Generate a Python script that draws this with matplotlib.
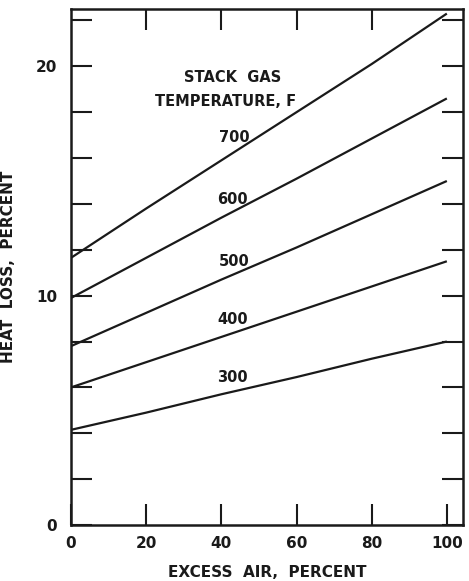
import numpy as np
import matplotlib
matplotlib.use('Agg')
import matplotlib.pyplot as plt

# excess air, percent
excess_air = [0, 20, 40, 60, 80, 100]
# heat loss, percent, per stack gas temperature (F)
temps = ['300', '400', '500', '600', '700']
loss_300 = [4.15, 4.9, 5.7, 6.45, 7.25, 8.0]
loss_400 = [6.0, 7.1, 8.2, 9.3, 10.4, 11.5]
loss_500 = [7.8, 9.25, 10.7, 12.1, 13.55, 15.0]
loss_600 = [9.9, 11.65, 13.4, 15.1, 16.85, 18.6]
loss_700 = [11.65, 13.8, 15.9, 18.0, 20.1, 22.3]
label_pos = [(43, 6.45), (43, 8.95), (43.5, 11.5), (43, 14.2), (43.5, 16.9)]

plt.rcParams['font.family'] = 'DejaVu Sans'
plt.rcParams['font.weight'] = 'bold'

fig = plt.figure(figsize=(4.69, 5.81), dpi=100)
ax = fig.add_axes([71 / 469, 1 - 525 / 581, 392 / 469, 516 / 581])

for ys in [loss_300, loss_400, loss_500, loss_600, loss_700]:
    ax.plot(excess_air, ys, color='#1a1a1a', lw=1.6, solid_capstyle='butt')

for t, (lx, ly) in zip(temps, label_pos):
    ax.text(lx, ly, t, ha='center', va='center', fontsize=10.5,
            fontweight='bold', color='#1a1a1a')

ax.text(43, 19.5, 'STACK  GAS', ha='center', va='center', fontsize=10.5,
        fontweight='bold', color='#1a1a1a')
ax.text(41, 18.45, 'TEMPERATURE, F', ha='center', va='center', fontsize=10.5,
        fontweight='bold', color='#1a1a1a')

ax.set_xlim(0, 104.3)
ax.set_ylim(0, 22.5)

ax.set_xticks([0, 20, 40, 60, 80, 100])
ax.set_xticklabels(['0', '20', '40', '60', '80', '100'])
ax.set_yticks(np.arange(0, 23, 2))
ax.set_yticklabels([str(v) if v % 10 == 0 else '' for v in range(0, 23, 2)])

ax.tick_params(axis='both', direction='in', length=15, width=1.5,
               labelsize=11, colors='#1a1a1a', right=True, top=False)
ax.tick_params(axis='x', pad=8)
ax.tick_params(axis='y', pad=10)
for lab in ax.get_xticklabels() + ax.get_yticklabels():
    lab.set_fontweight('bold')

# top ticks only at 20..80
top = ax.secondary_xaxis('top')
top.set_xticks([20, 40, 60, 80])
top.set_xticklabels([])
top.tick_params(direction='in', length=15, width=1.5, colors='#1a1a1a')
top.spines['top'].set_visible(False)

for s in ax.spines.values():
    s.set_linewidth(1.8)
    s.set_color('#1a1a1a')

ax.set_xlabel('EXCESS  AIR,  PERCENT', fontsize=11, fontweight='bold',
              color='#1a1a1a', labelpad=10)
ax.set_ylabel('HEAT  LOSS,  PERCENT', fontsize=11, fontweight='bold',
              color='#1a1a1a', labelpad=14)

fig.savefig('out.png', dpi=100)
